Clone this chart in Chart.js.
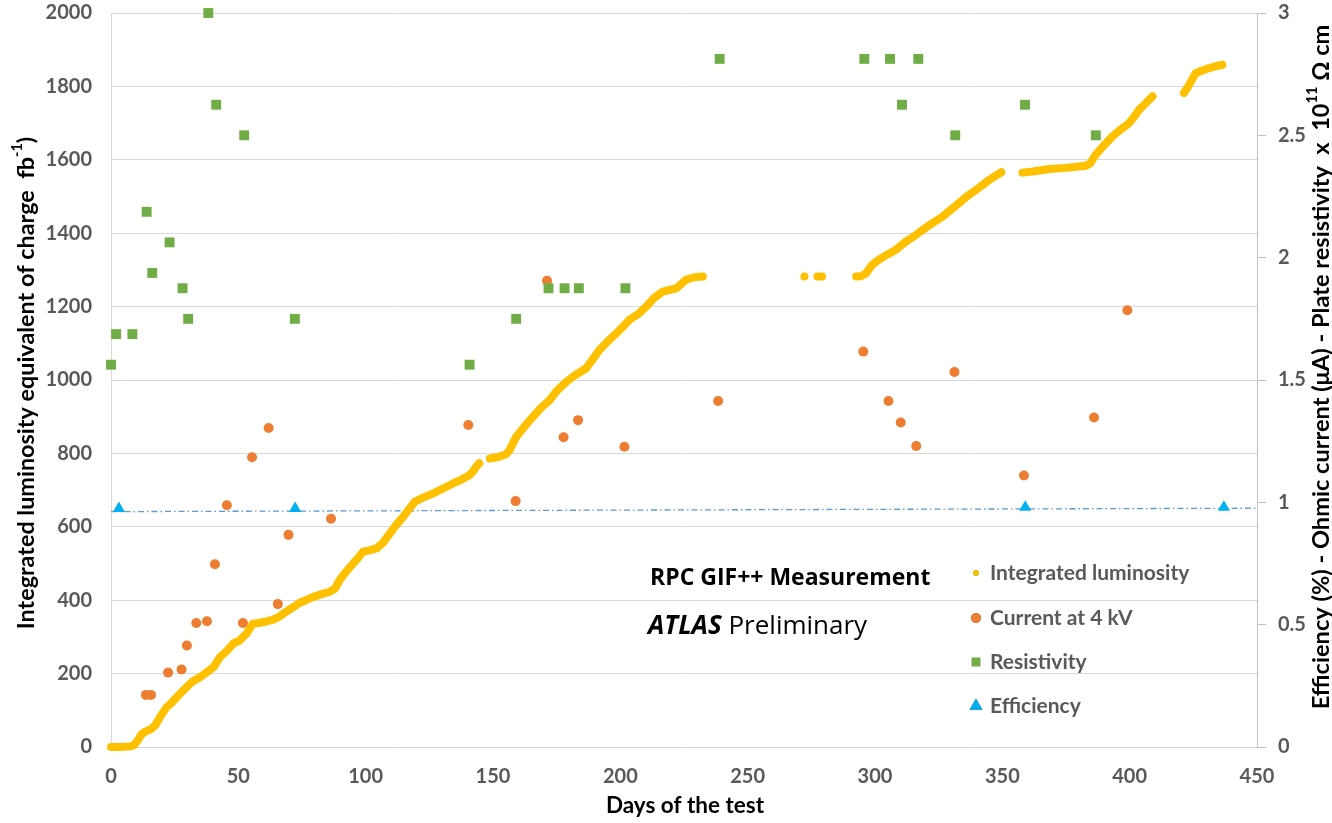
<!DOCTYPE html>
<html>
<head>
<meta charset="utf-8">
<title>RPC GIF++ Measurement</title>
<script src="https://cdn.jsdelivr.net/npm/chart.js@4"></script>
<style>
  html, body { margin: 0; padding: 0; background: #ffffff; }
  #wrap { width: 1332px; height: 823px; position: relative; }
  canvas { display: block; }
</style>
</head>
<body>
<div id="wrap"><canvas id="chart" width="1332" height="823"></canvas></div>
<script>
// ---- tick labels ----
const xTicks = [0, 50, 100, 150, 200, 250, 300, 350, 400, 450];
const leftTicks = [0, 200, 400, 600, 800, 1000, 1200, 1400, 1600, 1800, 2000];
const rightTicks = [0, 0.5, 1, 1.5, 2, 2.5, 3];

// ---- integrated luminosity (fb-1) vs day; null marks a pause in data taking ----
const lumiDays = [
  0, 2, 4, 6, 8, 9.2, 10.5, 12, 13.5, 16, 17.5, 19.2, 21.8, 24, 25.7, 27.5, 29.6, 32, 34.9, 37.5,
  40.3, 42.8, 45.5, 48, 50.5, 53.3, 55.7, 58, 61, 63.7, 66, 68, 70.2, 72, 74.1, 76.5, 79.4, 82, 85.9, 88,
  89.8, 92, 95.1, 97, 99, 101, 104.2, 107, 109.5, 112, 114.7, 117, 119.3, 122, 126.5, 130, 134.3, 138, 140.8, 142.3,
  143.5, 144.6, 146.5,
  148.8, 152, 155, 156.5, 159.1, 162, 165.7, 169, 172.2, 175, 178.8, 182, 186.6, 189, 191.8, 195, 198.4, 201,
  203.6, 207, 210.2, 213, 216.7, 219, 222, 225.8, 229, 232.4, 250,
  272.3, 275,
  277.4, 279.2, 285,
  292.6, 294.5, 296.4, 299, 302, 305.6, 308.2, 312.1, 315, 318.7, 322, 326.5, 330, 333, 336, 339.6, 342, 344.8,
  347, 349.6, 354,
  357.9, 362, 368.4, 375, 382.8, 384.5, 386.7, 390, 393.3, 396, 399.8, 401.5, 403.7, 406, 409, 415,
  421.3, 423, 425.9, 428, 431.2, 434, 436.4
];
const lumiValues = [
  0, 0, 0, 1, 2, 6, 18, 35, 42, 50, 60, 81, 108, 122, 135, 148, 163, 178, 190, 203,
  218, 245, 262, 282, 290, 310, 336, 338, 342, 347, 355, 365, 375, 383, 393, 400, 409, 415, 423, 432,
  455, 475, 500, 515, 532, 535, 541, 558, 582, 605, 627, 648, 668, 678, 691, 703, 718, 730, 741, 752,
  765, 773, null,
  786, 790, 797, 809, 845, 870, 900, 925, 945, 970, 995, 1012, 1032, 1055, 1082, 1105, 1127, 1145,
  1164, 1180, 1200, 1222, 1241, 1245, 1250, 1273, 1280, 1282, null,
  1282, null,
  1282, 1282, null,
  1282, 1283, 1290, 1315, 1330, 1345, 1355, 1377, 1390, 1409, 1425, 1445, 1465, 1482, 1500, 1518, 1530, 1545,
  1555, 1566, null,
  1565, 1568, 1575, 1578, 1584, 1590, 1614, 1640, 1664, 1680, 1700, 1715, 1736, 1752, 1773, null,
  1782, 1800, 1836, 1842, 1850, 1855, 1859
];

// ---- ohmic current at 4 kV (uA) ----
const currentDays = [13.7, 15.7, 22.4, 27.7, 29.8, 33.5, 37.7, 40.8, 45.5, 51.8, 55.4, 61.9, 65.5, 69.7, 86.4,
  140.3, 158.9, 171.2, 177.7, 183.4, 201.6, 238.4, 295.4, 305.3, 310.1, 316.2, 331.2, 358.5, 386, 399.1];
const currentValues = [0.213, 0.213, 0.304, 0.317, 0.415, 0.507, 0.514, 0.747, 0.988, 0.507, 1.184, 1.304, 0.584, 0.867, 0.933,
  1.316, 1.005, 1.906, 1.266, 1.336, 1.227, 1.414, 1.616, 1.414, 1.326, 1.23, 1.533, 1.11, 1.347, 1.785];

// ---- plate resistivity (x 10^11 ohm cm) ----
const resistDays = [0, 2, 8.4, 14, 16.2, 23, 28.1, 30.3, 38.2, 41.3, 52.3, 72.2, 140.8, 159.1, 171.8, 178.1, 183.7, 202,
  239, 295.8, 305.9, 310.6, 317, 331.5, 358.9, 386.7];
const resistValues = [1.5625, 1.6875, 1.6875, 2.1875, 1.9375, 2.0625, 1.875, 1.75, 3.0, 2.625, 2.5, 1.75, 1.5625, 1.75, 1.875, 1.875, 1.875, 1.875,
  2.8125, 2.8125, 2.8125, 2.625, 2.8125, 2.5, 2.625, 2.5];

// ---- efficiency and its linear trend ----
const effDays = [3.1, 72.3, 359, 437];
const effValues = [0.975, 0.975, 0.98, 0.98];
const trendDays = [0, 450];
const trendValues = [0.962, 0.976];

const pts = (xs, ys) => xs.map((x, i) => ({ x: x, y: ys[i] }));

const COLORS = {
  lumi: '#FFC000',
  current: '#ED7D31',
  resist: '#70AD47',
  eff: '#00B0F0',
  trend: '#5B9BD5'
};
const FAMILY = 'Lato, "Open Sans", sans-serif';
const TICK_FONT = { family: FAMILY, size: 20, weight: 'bold' };
const TICK_COLOR = '#595959';

// draws text made of normal and superscript pieces, centred on (0,0) of the current transform
function richText(ctx, parts, size, family, color) {
  const widths = parts.map(p => {
    ctx.font = 'bold ' + (p.sup ? size * 0.62 : size) + 'px ' + family;
    return ctx.measureText(p.t).width;
  });
  const total = widths.reduce((a, b) => a + b, 0);
  let cx = -total / 2;
  ctx.fillStyle = color;
  ctx.textBaseline = 'middle';
  ctx.textAlign = 'left';
  parts.forEach((p, i) => {
    ctx.font = 'bold ' + (p.sup ? size * 0.62 : size) + 'px ' + family;
    ctx.fillText(p.t, cx, p.sup ? -size * 0.36 : 0);
    cx += widths[i];
  });
}

const overlay = {
  id: 'overlay',
  afterDraw(chart) {
    const ctx = chart.ctx;

    // left axis title
    ctx.save();
    ctx.translate(26, 383);
    ctx.rotate(-Math.PI / 2);
    richText(ctx, [{ t: 'Integrated luminosity equivalent of charge  fb' }, { t: '-1', sup: true }, { t: ')' }], 23.4, FAMILY, '#000000');
    ctx.restore();

    // right axis title
    ctx.save();
    ctx.translate(1321, 367);
    ctx.rotate(-Math.PI / 2);
    richText(ctx, [{ t: 'Efficiency (%) - Ohmic current (\u03BCA) - Plate resistivity  x  10' }, { t: '11', sup: true }, { t: ' \u03A9 cm' }], 23.6, FAMILY, '#000000');
    ctx.restore();

    // x axis title
    ctx.save();
    ctx.translate(685, 806);
    richText(ctx, [{ t: 'Days of the test' }], 22.5, FAMILY, '#000000');
    ctx.restore();

    // measurement labels
    ctx.save();
    ctx.fillStyle = '#000000';
    ctx.textBaseline = 'middle';
    ctx.textAlign = 'left';
    ctx.font = 'bold 23px "Open Sans", sans-serif';
    ctx.fillText('RPC GIF++ Measurement', 650, 578);
    ctx.font = 'italic bold 26px "Open Sans", sans-serif';
    ctx.fillText('ATLAS', 648, 627);
    const w = ctx.measureText('ATLAS ').width;
    ctx.font = '26px "Open Sans", sans-serif';
    ctx.fillText('Preliminary', 648 + w, 627);
    ctx.restore();

    // legend
    const items = [
      { label: 'Integrated luminosity', y: 573, style: 'circle', r: 3, color: COLORS.lumi },
      { label: 'Current at 4 kV', y: 618, style: 'circle', r: 5, color: COLORS.current },
      { label: 'Resistivity', y: 662, style: 'rect', r: 6, color: COLORS.resist },
      { label: 'Efficiency', y: 706, style: 'triangle', r: 7.5, color: COLORS.eff }
    ];
    ctx.save();
    items.forEach(it => {
      ctx.beginPath();
      Chart.helpers.drawPoint(ctx, { pointStyle: it.style, radius: it.r, borderWidth: 0, rotation: 0 }, 976, it.y);
      ctx.fillStyle = it.color;
      ctx.fill();
      ctx.fillStyle = TICK_COLOR;
      ctx.font = 'bold 21px ' + FAMILY;
      ctx.textAlign = 'left';
      ctx.textBaseline = 'middle';
      ctx.fillText(it.label, 990, it.y);
    });
    ctx.restore();
  }
};

const setTicks = list => scale => { scale.ticks = list.map(v => ({ value: v })); };
const plain = v => String(v);

new Chart(document.getElementById('chart'), {
  type: 'scatter',
  data: {
    datasets: [
      {
        label: 'Efficiency',
        data: pts(effDays, effValues),
        yAxisID: 'yR',
        pointStyle: 'triangle',
        pointRadius: 7,
        pointBorderWidth: 0,
        backgroundColor: COLORS.eff,
        borderColor: COLORS.eff,
        clip: false,
        order: 0
      },
      {
        label: 'Resistivity',
        data: pts(resistDays, resistValues),
        yAxisID: 'yR',
        pointStyle: 'rect',
        pointRadius: 7,
        pointBorderWidth: 0,
        backgroundColor: COLORS.resist,
        borderColor: COLORS.resist,
        clip: false,
        order: 1
      },
      {
        label: 'Current at 4 kV',
        data: pts(currentDays, currentValues),
        yAxisID: 'yR',
        pointStyle: 'circle',
        pointRadius: 5,
        pointBorderWidth: 0,
        backgroundColor: COLORS.current,
        borderColor: COLORS.current,
        clip: false,
        order: 2
      },
      {
        label: 'Integrated luminosity',
        data: pts(lumiDays, lumiValues),
        yAxisID: 'y',
        showLine: true,
        spanGaps: false,
        borderWidth: 8,
        borderCapStyle: 'round',
        borderJoinStyle: 'round',
        borderColor: COLORS.lumi,
        backgroundColor: COLORS.lumi,
        pointRadius: 3.5,
        pointBorderWidth: 0,
        clip: false,
        order: 3
      },
      {
        label: 'Efficiency trend',
        data: pts(trendDays, trendValues),
        yAxisID: 'yR',
        showLine: true,
        borderWidth: 1.3,
        borderColor: COLORS.trend,
        borderDash: [6, 3, 1.5, 3],
        pointRadius: 0,
        order: 4
      }
    ]
  },
  options: {
    responsive: false,
    animation: false,
    events: [],
    layout: { padding: { top: 13, left: 0, right: 0, bottom: 0 } },
    plugins: {
      legend: { display: false },
      tooltip: { enabled: false }
    },
    scales: {
      x: {
        type: 'linear',
        position: 'bottom',
        min: 0,
        max: 450,
        afterBuildTicks: setTicks(xTicks),
        afterFit: s => { s.height = 76; s.paddingLeft = 0; s.paddingRight = 0; },
        grid: { display: false, drawTicks: false },
        border: { display: false },
        ticks: { font: TICK_FONT, color: TICK_COLOR, padding: 18, maxRotation: 0, callback: plain }
      },
      y: {
        type: 'linear',
        position: 'left',
        min: 0,
        max: 2000,
        afterBuildTicks: setTicks(leftTicks),
        afterFit: s => { s.width = 111; s.paddingTop = 0; s.paddingBottom = 0; },
        grid: { color: '#D9D9D9', lineWidth: 1, drawTicks: false },
        border: { display: true, color: '#D9D9D9' },
        ticks: { font: TICK_FONT, color: TICK_COLOR, padding: 19, callback: plain }
      },
      yR: {
        type: 'linear',
        position: 'right',
        min: 0,
        max: 3,
        afterBuildTicks: setTicks(rightTicks),
        afterFit: s => { s.width = 75; s.paddingTop = 0; s.paddingBottom = 0; },
        grid: { drawOnChartArea: false, drawTicks: true, tickLength: 9, color: '#BFBFBF' },
        border: { display: true, color: '#BFBFBF' },
        ticks: { font: TICK_FONT, color: TICK_COLOR, padding: 12, callback: plain }
      }
    }
  },
  plugins: [overlay]
});
</script>
</body>
</html>
